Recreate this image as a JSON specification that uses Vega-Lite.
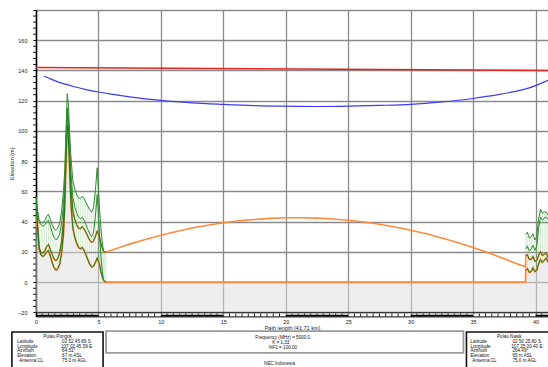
{
  "$schema": "https://vega.github.io/schema/vega-lite/v6.json",
  "width": 512,
  "height": 306.4,
  "autosize": {"type": "none"},
  "padding": {"left": 36, "top": 10, "right": 0, "bottom": 50.6},
  "background": "white",
  "config": {
    "view": {"stroke": null},
    "font": "Liberation Sans",
    "axis": {
      "labelFont": "Liberation Sans",
      "titleFont": "Liberation Sans",
      "labelFontSize": 5.5,
      "titleFontSize": 5.5,
      "titleFontWeight": "normal",
      "labelColor": "#222",
      "titleColor": "#222",
      "labelOverlap": false,
      "labelFlush": false
    },
    "text": {"font": "Liberation Sans", "fontSize": 4.6, "color": "#111"}
  },
  "datasets": {
    "profile": [
      {"km": 0, "t": 56, "m1": 56, "m2": 56, "hi": 56, "seg": "L"},
      {"km": 0.1, "t": 40, "m1": 40.4, "m2": 48, "hi": 48.4, "seg": "L"},
      {"km": 0.25, "t": 22, "m1": 23, "m2": 40, "hi": 41, "seg": "L"},
      {"km": 0.4, "t": 18, "m1": 19.6, "m2": 38, "hi": 39.6, "seg": "L"},
      {"km": 0.55, "t": 17, "m1": 19.2, "m2": 37, "hi": 39.2, "seg": "L"},
      {"km": 0.7, "t": 18, "m1": 20.8, "m2": 38, "hi": 40.8, "seg": "L"},
      {"km": 0.85, "t": 20, "m1": 23.4, "m2": 40, "hi": 43.4, "seg": "L"},
      {"km": 1.0, "t": 21, "m1": 25, "m2": 41, "hi": 45, "seg": "L"},
      {"km": 1.15, "t": 17, "m1": 21.6, "m2": 37, "hi": 41.6, "seg": "L"},
      {"km": 1.3, "t": 13, "m1": 18.2, "m2": 33, "hi": 38.2, "seg": "L"},
      {"km": 1.45, "t": 9.5, "m1": 15.2, "m2": 29.5, "hi": 35.2, "seg": "L"},
      {"km": 1.6, "t": 8, "m1": 14.3, "m2": 28, "hi": 34.3, "seg": "L"},
      {"km": 1.75, "t": 9, "m1": 15.9, "m2": 29, "hi": 35.9, "seg": "L"},
      {"km": 1.9, "t": 12, "m1": 19.4, "m2": 32, "hi": 39.4, "seg": "L"},
      {"km": 2.05, "t": 19, "m1": 27, "m2": 39, "hi": 47, "seg": "L"},
      {"km": 2.2, "t": 32, "m1": 40.5, "m2": 52, "hi": 60.5, "seg": "L"},
      {"km": 2.3, "t": 50, "m1": 58.9, "m2": 65, "hi": 73.9, "seg": "L"},
      {"km": 2.4, "t": 78, "m1": 87.3, "m2": 90, "hi": 99.3, "seg": "L"},
      {"km": 2.5, "t": 104, "m1": 113.6, "m2": 115, "hi": 124.6, "seg": "L"},
      {"km": 2.6, "t": 95, "m1": 105, "m2": 107, "hi": 117, "seg": "L"},
      {"km": 2.7, "t": 72, "m1": 82.3, "m2": 87, "hi": 97.3, "seg": "L"},
      {"km": 2.8, "t": 52, "m1": 62.7, "m2": 72, "hi": 82.7, "seg": "L"},
      {"km": 2.95, "t": 36, "m1": 47.2, "m2": 56, "hi": 67.2, "seg": "L"},
      {"km": 3.1, "t": 30, "m1": 41.7, "m2": 50, "hi": 61.7, "seg": "L"},
      {"km": 3.25, "t": 26, "m1": 38.3, "m2": 46, "hi": 58.3, "seg": "L"},
      {"km": 3.4, "t": 23, "m1": 35.8, "m2": 43, "hi": 55.8, "seg": "L"},
      {"km": 3.55, "t": 22, "m1": 35.3, "m2": 42, "hi": 55.3, "seg": "L"},
      {"km": 3.7, "t": 23, "m1": 36.8, "m2": 43, "hi": 56.8, "seg": "L"},
      {"km": 3.85, "t": 21, "m1": 35.3, "m2": 41, "hi": 55.3, "seg": "L"},
      {"km": 4.0, "t": 18, "m1": 32.8, "m2": 38, "hi": 52.8, "seg": "L"},
      {"km": 4.15, "t": 15, "m1": 30.3, "m2": 35, "hi": 50.3, "seg": "L"},
      {"km": 4.3, "t": 12, "m1": 27.8, "m2": 32, "hi": 47.8, "seg": "L"},
      {"km": 4.45, "t": 10, "m1": 26.3, "m2": 30, "hi": 46.3, "seg": "L"},
      {"km": 4.6, "t": 10.5, "m1": 27.2, "m2": 32.5, "hi": 49.2, "seg": "L"},
      {"km": 4.75, "t": 13, "m1": 30.2, "m2": 43, "hi": 60.2, "seg": "L"},
      {"km": 4.9, "t": 16, "m1": 33.7, "m2": 58, "hi": 75.7, "seg": "L"},
      {"km": 5.0, "t": 14, "m1": 32, "m2": 44, "hi": 62, "seg": "L"},
      {"km": 5.1, "t": 11, "m1": 29.3, "m2": 29, "hi": 47.3, "seg": "L"},
      {"km": 5.2, "t": 7, "m1": 25.6, "m2": 17, "hi": 35.6, "seg": "L"},
      {"km": 5.3, "t": 4, "m1": 22.9, "m2": 8, "hi": 26.9, "seg": "L"},
      {"km": 5.4, "t": 1.5, "m1": 20.7, "m2": 1.5, "hi": 20.7, "seg": "L"},
      {"km": 5.5, "t": 0.5, "m1": 20, "m2": 0.5, "hi": 20, "seg": "L"},
      {"km": 5.6, "t": 0, "m1": 19.8, "m2": 0, "hi": 19.8, "seg": "L"},
      {"km": 6.5, "t": 0, "m1": 22.4, "seg": "S"},
      {"km": 7.5, "t": 0, "m1": 25.2, "seg": "S"},
      {"km": 8.75, "t": 0, "m1": 28.3, "seg": "S"},
      {"km": 10, "t": 0, "m1": 31.1, "seg": "S"},
      {"km": 11.25, "t": 0, "m1": 33.6, "seg": "S"},
      {"km": 12.5, "t": 0, "m1": 35.8, "seg": "S"},
      {"km": 13.75, "t": 0, "m1": 37.7, "seg": "S"},
      {"km": 15, "t": 0, "m1": 39.3, "seg": "S"},
      {"km": 16.25, "t": 0, "m1": 40.6, "seg": "S"},
      {"km": 17.5, "t": 0, "m1": 41.5, "seg": "S"},
      {"km": 18.75, "t": 0, "m1": 42.2, "seg": "S"},
      {"km": 20, "t": 0, "m1": 42.6, "seg": "S"},
      {"km": 21.25, "t": 0, "m1": 42.6, "seg": "S"},
      {"km": 22.5, "t": 0, "m1": 42.4, "seg": "S"},
      {"km": 23.75, "t": 0, "m1": 41.8, "seg": "S"},
      {"km": 25, "t": 0, "m1": 41.0, "seg": "S"},
      {"km": 26.25, "t": 0, "m1": 39.8, "seg": "S"},
      {"km": 27.5, "t": 0, "m1": 38.3, "seg": "S"},
      {"km": 28.75, "t": 0, "m1": 36.5, "seg": "S"},
      {"km": 30, "t": 0, "m1": 34.4, "seg": "S"},
      {"km": 31.25, "t": 0, "m1": 32.0, "seg": "S"},
      {"km": 32.5, "t": 0, "m1": 29.3, "seg": "S"},
      {"km": 33.75, "t": 0, "m1": 26.3, "seg": "S"},
      {"km": 35, "t": 0, "m1": 23.0, "seg": "S"},
      {"km": 36.25, "t": 0, "m1": 19.4, "seg": "S"},
      {"km": 37.5, "t": 0, "m1": 15.5, "seg": "S"},
      {"km": 38.4, "t": 0, "m1": 12.5, "seg": "S"},
      {"km": 39.2, "t": 0, "m1": 10.2, "seg": "S"},
      {"km": 39.22, "t": 8, "m1": 17.6, "m2": 22, "hi": 31.6, "seg": "R"},
      {"km": 39.35, "t": 9, "m1": 18.1, "m2": 24, "hi": 33.1, "seg": "R"},
      {"km": 39.5, "t": 6.5, "m1": 15.1, "m2": 20.5, "hi": 29.1, "seg": "R"},
      {"km": 39.65, "t": 7, "m1": 15, "m2": 22, "hi": 30, "seg": "R"},
      {"km": 39.8, "t": 9.5, "m1": 17, "m2": 24.5, "hi": 32, "seg": "R"},
      {"km": 39.95, "t": 7, "m1": 13.9, "m2": 21, "hi": 27.9, "seg": "R"},
      {"km": 40.1, "t": 8, "m1": 14.3, "m2": 24, "hi": 30.3, "seg": "R"},
      {"km": 40.25, "t": 12, "m1": 17.8, "m2": 36, "hi": 41.8, "seg": "R"},
      {"km": 40.4, "t": 15, "m1": 20.2, "m2": 43, "hi": 48.2, "seg": "R"},
      {"km": 40.55, "t": 13, "m1": 17.6, "m2": 41, "hi": 45.6, "seg": "R"},
      {"km": 40.7, "t": 14.5, "m1": 18.5, "m2": 42.5, "hi": 46.5, "seg": "R"},
      {"km": 40.85, "t": 16, "m1": 19.4, "m2": 43, "hi": 46.4, "seg": "R"},
      {"km": 41.0, "t": 13.5, "m1": 16.4, "m2": 41.5, "hi": 44.4, "seg": "R"},
      {"km": 41.15, "t": 15, "m1": 17.3, "m2": 44, "hi": 46.3, "seg": "R"},
      {"km": 41.3, "t": 16, "m1": 17.7, "m2": 45, "hi": 46.7, "seg": "R"},
      {"km": 41.5, "t": 15, "m1": 15.8, "m2": 43, "hi": 43.8, "seg": "R"},
      {"km": 41.71, "t": 14, "m1": 14, "m2": 42, "hi": 42, "seg": "R"}
    ],
    "los": [
      {"km": 0, "h": 142},
      {"km": 41.71, "h": 140}
    ],
    "fresnel": [
      {"km": 0.65, "h": 136.2},
      {"km": 1, "h": 135},
      {"km": 1.5, "h": 133.3},
      {"km": 2, "h": 131.8},
      {"km": 3, "h": 129.4},
      {"km": 4, "h": 127.4},
      {"km": 5, "h": 125.8},
      {"km": 6, "h": 124.4},
      {"km": 7.5, "h": 122.6},
      {"km": 10, "h": 120.2},
      {"km": 12.5, "h": 118.6},
      {"km": 15, "h": 117.6},
      {"km": 17.5, "h": 116.8},
      {"km": 20, "h": 116.4},
      {"km": 22.5, "h": 116.2},
      {"km": 25, "h": 116.4},
      {"km": 27.5, "h": 116.9},
      {"km": 30, "h": 117.6},
      {"km": 32.5, "h": 119.2},
      {"km": 35, "h": 121.5},
      {"km": 37, "h": 124},
      {"km": 38.5, "h": 126.4},
      {"km": 39.5, "h": 128.5},
      {"km": 40.3, "h": 131},
      {"km": 41, "h": 133.5},
      {"km": 41.71, "h": 136.2}
    ],
    "bar": [
      {"a": 0, "b": 5},
      {"a": 10, "b": 15},
      {"a": 20, "b": 25},
      {"a": 30, "b": 35},
      {"a": 40, "b": 41.71}
    ],
    "yminor": [
      {"v": -16}, {"v": -12}, {"v": -8}, {"v": -4}, {"v": 4}, {"v": 8}, {"v": 12}, {"v": 16},
      {"v": 24}, {"v": 28}, {"v": 32}, {"v": 36}, {"v": 44}, {"v": 48}, {"v": 52}, {"v": 56},
      {"v": 64}, {"v": 68}, {"v": 72}, {"v": 76}, {"v": 84}, {"v": 88}, {"v": 92}, {"v": 96},
      {"v": 104}, {"v": 108}, {"v": 112}, {"v": 116}, {"v": 124}, {"v": 128}, {"v": 132}, {"v": 136},
      {"v": 144}, {"v": 148}, {"v": 152}, {"v": 156}, {"v": 164}, {"v": 168}, {"v": 172}, {"v": 176}
    ],
    "xminor": [
      {"v": 0.5}, {"v": 1}, {"v": 1.5}, {"v": 2}, {"v": 2.5}, {"v": 3}, {"v": 3.5}, {"v": 4}, {"v": 4.5},
      {"v": 5.5}, {"v": 6}, {"v": 6.5}, {"v": 7}, {"v": 7.5}, {"v": 8}, {"v": 8.5}, {"v": 9}, {"v": 9.5},
      {"v": 10.5}, {"v": 11}, {"v": 11.5}, {"v": 12}, {"v": 12.5}, {"v": 13}, {"v": 13.5}, {"v": 14}, {"v": 14.5},
      {"v": 15.5}, {"v": 16}, {"v": 16.5}, {"v": 17}, {"v": 17.5}, {"v": 18}, {"v": 18.5}, {"v": 19}, {"v": 19.5},
      {"v": 20.5}, {"v": 21}, {"v": 21.5}, {"v": 22}, {"v": 22.5}, {"v": 23}, {"v": 23.5}, {"v": 24}, {"v": 24.5},
      {"v": 25.5}, {"v": 26}, {"v": 26.5}, {"v": 27}, {"v": 27.5}, {"v": 28}, {"v": 28.5}, {"v": 29}, {"v": 29.5},
      {"v": 30.5}, {"v": 31}, {"v": 31.5}, {"v": 32}, {"v": 32.5}, {"v": 33}, {"v": 33.5}, {"v": 34}, {"v": 34.5},
      {"v": 35.5}, {"v": 36}, {"v": 36.5}, {"v": 37}, {"v": 37.5}, {"v": 38}, {"v": 38.5}, {"v": 39}, {"v": 39.5},
      {"v": 40.5}
    ],
    "siteBoxes": [
      {"x1": -1.93, "x2": 5.37, "y1": -32.9, "y2": -62},
      {"x1": 34.47, "x2": 46, "y1": -32.9, "y2": -62}
    ],
    "paramBox": [
      {"x1": 5.61, "x2": 34.23, "y1": -32.4, "y2": -46.7}
    ],
    "textLeft": [
      {"x": -1.5, "y": -39.6, "text": "Latitude"},
      {"x": -1.5, "y": -42.7, "text": "Longitude"},
      {"x": -1.5, "y": -45.8, "text": "Azimuth"},
      {"x": -1.5, "y": -48.9, "text": "Elevation"},
      {"x": -1.35, "y": -52.2, "text": "Antenna CL"},
      {"x": 2.09, "y": -39.6, "text": "02 52 45.89 S"},
      {"x": 2.0, "y": -42.7, "text": "107 02 45.59 E"},
      {"x": 2.09, "y": -45.8, "text": "84.51°"},
      {"x": 2.09, "y": -48.9, "text": "67 m ASL"},
      {"x": 2.09, "y": -52.2, "text": "75.0 m AGL"},
      {"x": 34.79, "y": -39.6, "text": "Latitude"},
      {"x": 34.79, "y": -42.7, "text": "Longitude"},
      {"x": 34.79, "y": -45.8, "text": "Azimuth"},
      {"x": 34.79, "y": -48.9, "text": "Elevation"},
      {"x": 34.94, "y": -52.2, "text": "Antenna CL"},
      {"x": 38.15, "y": -39.6, "text": "02 50 25.80 S"},
      {"x": 38.06, "y": -42.7, "text": "107 25 00.40 E"},
      {"x": 38.15, "y": -45.8, "text": "264.49°"},
      {"x": 38.15, "y": -48.9, "text": "65 m ASL"},
      {"x": 38.15, "y": -52.2, "text": "75.0 m AGL"}
    ],
    "textCenter": [
      {"x": 1.73, "y": -35.9, "text": "Pulau Pongok"},
      {"x": 37.9, "y": -35.9, "text": "Pulau Nasik"},
      {"x": 19.76, "y": -36.6, "text": "Frequency (MHz) = 5000.0"},
      {"x": 19.6, "y": -40.2, "text": "K = 1.33"},
      {"x": 19.76, "y": -43.7, "text": "%F1 = 100.00"},
      {"x": 19.5, "y": -54.2, "text": "NEC Indonesia"}
    ]
  },
  "layer": [
    {
      "data": {"name": "profile"},
      "mark": {"type": "area", "fill": "#dedede", "opacity": 0.5, "clip": true},
      "encoding": {
        "x": {
          "field": "km", "type": "quantitative", "title": "Path length (41.71 km)",
          "scale": {"domain": [0, 41], "nice": false, "zero": false},
          "axis": {
            "values": [0, 5, 10, 15, 20, 25, 30, 35, 40],
            "tickCount": 30,
            "grid": true,
            "gridColor": "#8a8a8a",
            "gridWidth": 1.3,
            "ticks": false,
            "domainColor": "#000",
            "domainWidth": 1,
            "labelPadding": 3,
            "labelFlush": false,
            "labelOverlap": false,
            "titlePadding": 1
          }
        },
        "y": {
          "field": "t", "type": "quantitative", "title": "Elevation (m)",
          "scale": {"domain": [-22.6, 180], "nice": false, "zero": false},
          "axis": {
            "values": [-20, 0, 20, 40, 60, 80, 100, 120, 140, 160, 180],
            "tickCount": 30,
            "labelExpr": "datum.value < 170 ? datum.label : ''",
            "grid": true,
            "gridColor": {"condition": {"test": "datum.value === -20", "value": "#000"}, "value": "#8a8a8a"},
            "gridWidth": 1.3,
            "tickSize": 3,
            "tickColor": "#000",
            "tickWidth": 1,
            "domainColor": "#000",
            "domainWidth": 1.5,
            "labelPadding": 6,
            "labelFlush": false,
            "labelOverlap": false,
            "titlePadding": 3
          }
        },
        "y2": {"datum": -20}
      }
    },
    {
      "data": {"name": "profile"},
      "transform": [{"filter": "datum.seg !== 'S'"}],
      "mark": {"type": "rule", "color": "#79c279", "strokeWidth": 0.7, "opacity": 0.45, "clip": true},
      "encoding": {
        "x": {"field": "km", "type": "quantitative", "title": "Path length (41.71 km)", "scale": {"domain": [0, 41], "nice": false, "zero": false}},
        "y": {"field": "t", "type": "quantitative", "title": "Elevation (m)", "scale": {"domain": [-22.6, 180], "nice": false, "zero": false}},
        "y2": {"field": "hi"}
      }
    },
    {
      "data": {"name": "profile"},
      "mark": {"type": "line", "color": "#ff8a3a", "strokeWidth": 1.8, "clip": true},
      "encoding": {
        "x": {"field": "km", "type": "quantitative", "title": "Path length (41.71 km)", "scale": {"domain": [0, 41], "nice": false, "zero": false}},
        "y": {"field": "t", "type": "quantitative", "title": "Elevation (m)", "scale": {"domain": [-22.6, 180], "nice": false, "zero": false}}
      }
    },
    {
      "data": {"name": "profile"},
      "mark": {"type": "line", "color": "#ff8a3a", "strokeWidth": 1.6, "clip": true},
      "encoding": {
        "x": {"field": "km", "type": "quantitative", "title": "Path length (41.71 km)", "scale": {"domain": [0, 41], "nice": false, "zero": false}},
        "y": {"field": "m1", "type": "quantitative", "title": "Elevation (m)", "scale": {"domain": [-22.6, 180], "nice": false, "zero": false}}
      }
    },
    {
      "data": {"name": "profile"},
      "transform": [{"filter": "datum.seg !== 'S'"}],
      "mark": {"type": "line", "color": "#1c7a1c", "strokeWidth": 1, "clip": true},
      "encoding": {
        "x": {"field": "km", "type": "quantitative", "title": "Path length (41.71 km)", "scale": {"domain": [0, 41], "nice": false, "zero": false}},
        "y": {"field": "t", "type": "quantitative", "title": "Elevation (m)", "scale": {"domain": [-22.6, 180], "nice": false, "zero": false}},
        "detail": {"field": "seg"}
      }
    },
    {
      "data": {"name": "profile"},
      "transform": [{"filter": "datum.seg !== 'S'"}],
      "mark": {"type": "line", "color": "#1c7a1c", "strokeWidth": 1, "clip": true},
      "encoding": {
        "x": {"field": "km", "type": "quantitative", "title": "Path length (41.71 km)", "scale": {"domain": [0, 41], "nice": false, "zero": false}},
        "y": {"field": "m1", "type": "quantitative", "title": "Elevation (m)", "scale": {"domain": [-22.6, 180], "nice": false, "zero": false}},
        "detail": {"field": "seg"}
      }
    },
    {
      "data": {"name": "profile"},
      "transform": [{"filter": "datum.seg !== 'S'"}],
      "mark": {"type": "line", "color": "#2e8b2e", "strokeWidth": 1, "clip": true},
      "encoding": {
        "x": {"field": "km", "type": "quantitative", "title": "Path length (41.71 km)", "scale": {"domain": [0, 41], "nice": false, "zero": false}},
        "y": {"field": "m2", "type": "quantitative", "title": "Elevation (m)", "scale": {"domain": [-22.6, 180], "nice": false, "zero": false}},
        "detail": {"field": "seg"}
      }
    },
    {
      "data": {"name": "profile"},
      "transform": [{"filter": "datum.seg !== 'S'"}],
      "mark": {"type": "line", "color": "#2e8b2e", "strokeWidth": 1, "clip": true},
      "encoding": {
        "x": {"field": "km", "type": "quantitative", "title": "Path length (41.71 km)", "scale": {"domain": [0, 41], "nice": false, "zero": false}},
        "y": {"field": "hi", "type": "quantitative", "title": "Elevation (m)", "scale": {"domain": [-22.6, 180], "nice": false, "zero": false}},
        "detail": {"field": "seg"}
      }
    },
    {
      "data": {"name": "los"},
      "mark": {"type": "line", "color": "#e8231f", "strokeWidth": 1.4, "clip": true},
      "encoding": {
        "x": {"field": "km", "type": "quantitative", "title": "Path length (41.71 km)", "scale": {"domain": [0, 41], "nice": false, "zero": false}},
        "y": {"field": "h", "type": "quantitative", "title": "Elevation (m)", "scale": {"domain": [-22.6, 180], "nice": false, "zero": false}}
      }
    },
    {
      "data": {"name": "fresnel"},
      "mark": {"type": "line", "color": "#3b3bf5", "strokeWidth": 1.2, "interpolate": "monotone", "clip": true},
      "encoding": {
        "x": {"field": "km", "type": "quantitative", "title": "Path length (41.71 km)", "scale": {"domain": [0, 41], "nice": false, "zero": false}},
        "y": {"field": "h", "type": "quantitative", "title": "Elevation (m)", "scale": {"domain": [-22.6, 180], "nice": false, "zero": false}}
      }
    },
    {
      "data": {"name": "bar"},
      "mark": {"type": "rule", "color": "#000", "strokeWidth": 2.2, "clip": true},
      "encoding": {
        "x": {"field": "a", "type": "quantitative", "title": "Path length (41.71 km)", "scale": {"domain": [0, 41], "nice": false, "zero": false}},
        "x2": {"field": "b"},
        "y": {"datum": -22.2, "type": "quantitative", "title": "Elevation (m)", "scale": {"domain": [-22.6, 180], "nice": false, "zero": false}}
      }
    },
    {
      "data": {"name": "xminor"},
      "mark": {"type": "rule", "color": "#000", "strokeWidth": 0.9},
      "encoding": {
        "x": {"field": "v", "type": "quantitative", "title": "Path length (41.71 km)", "scale": {"domain": [0, 41], "nice": false, "zero": false}},
        "y": {"datum": -22.6, "type": "quantitative", "title": "Elevation (m)", "scale": {"domain": [-22.6, 180], "nice": false, "zero": false}},
        "y2": {"datum": -20.7}
      }
    },
    {
      "data": {"name": "yminor"},
      "mark": {"type": "rule", "color": "#000", "strokeWidth": 0.9},
      "encoding": {
        "x": {"datum": -0.24, "type": "quantitative", "title": "Path length (41.71 km)", "scale": {"domain": [0, 41], "nice": false, "zero": false}},
        "x2": {"datum": 0},
        "y": {"field": "v", "type": "quantitative", "title": "Elevation (m)", "scale": {"domain": [-22.6, 180], "nice": false, "zero": false}}
      }
    },
    {
      "data": {"name": "siteBoxes"},
      "mark": {"type": "rect", "fill": "white", "stroke": "#111", "strokeWidth": 1.6},
      "encoding": {
        "x": {"field": "x1", "type": "quantitative", "title": "Path length (41.71 km)", "scale": {"domain": [0, 41], "nice": false, "zero": false}},
        "x2": {"field": "x2"},
        "y": {"field": "y1", "type": "quantitative", "title": "Elevation (m)", "scale": {"domain": [-22.6, 180], "nice": false, "zero": false}},
        "y2": {"field": "y2"}
      }
    },
    {
      "data": {"name": "paramBox"},
      "mark": {"type": "rect", "fill": "white", "stroke": "#9a9a9a", "strokeWidth": 1.8},
      "encoding": {
        "x": {"field": "x1", "type": "quantitative", "title": "Path length (41.71 km)", "scale": {"domain": [0, 41], "nice": false, "zero": false}},
        "x2": {"field": "x2"},
        "y": {"field": "y1", "type": "quantitative", "title": "Elevation (m)", "scale": {"domain": [-22.6, 180], "nice": false, "zero": false}},
        "y2": {"field": "y2"}
      }
    },
    {
      "data": {"name": "textLeft"},
      "mark": {"type": "text", "align": "left", "baseline": "middle", "fontSize": 4.6},
      "encoding": {
        "x": {"field": "x", "type": "quantitative", "title": "Path length (41.71 km)", "scale": {"domain": [0, 41], "nice": false, "zero": false}},
        "y": {"field": "y", "type": "quantitative", "title": "Elevation (m)", "scale": {"domain": [-22.6, 180], "nice": false, "zero": false}},
        "text": {"field": "text"}
      }
    },
    {
      "data": {"name": "textCenter"},
      "mark": {"type": "text", "align": "center", "baseline": "middle", "fontSize": 4.6},
      "encoding": {
        "x": {"field": "x", "type": "quantitative", "title": "Path length (41.71 km)", "scale": {"domain": [0, 41], "nice": false, "zero": false}},
        "y": {"field": "y", "type": "quantitative", "title": "Elevation (m)", "scale": {"domain": [-22.6, 180], "nice": false, "zero": false}},
        "text": {"field": "text"}
      }
    }
  ]
}
